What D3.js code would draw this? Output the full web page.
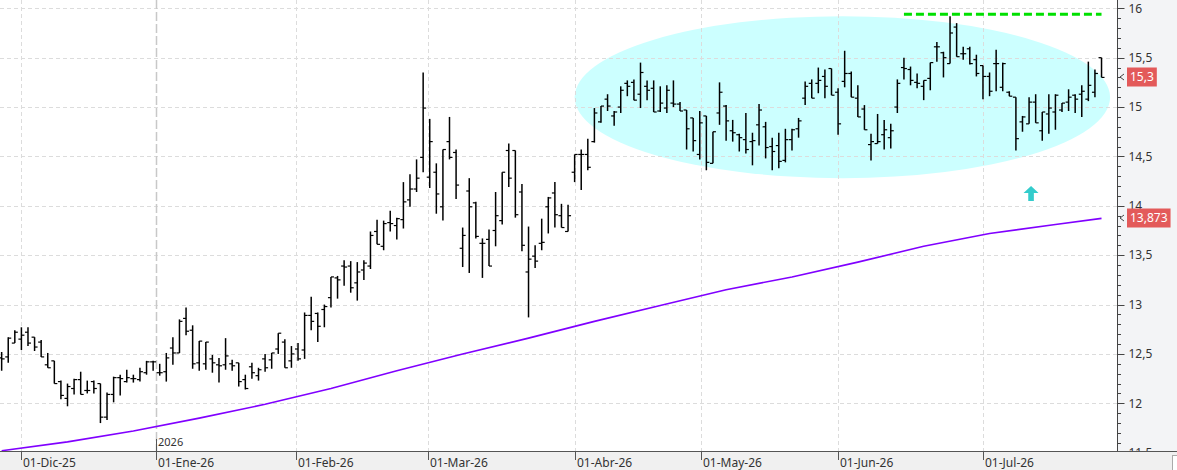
<!DOCTYPE html>
<html>
<head>
<meta charset="utf-8">
<script src="https://cdn.jsdelivr.net/npm/d3@7"></script>
<style>
   body { margin: 0; background: #fff; }
   svg { display: block; font-family: "Noto Sans", "DejaVu Sans", sans-serif; }
</style>
</head>
<body>
<svg id="chart" width="1177" height="470"></svg>
<script>
// trading calendar (weekdays minus market holidays)
var firstDay = "2025-11-26";
var lastDay = "2026-07-27";
var holidays = ["2025-12-25", "2025-12-26", "2026-01-01", "2026-04-03", "2026-04-06", "2026-05-01"];
var monthNames = ["Ene", "Feb", "Mar", "Abr", "May", "Jun", "Jul", "Ago", "Sep", "Oct", "Nov", "Dic"];

// daily bars, one value per trading day
var opens = [12.46,12.47,12.61,12.65,12.72,12.67,12.62,12.39,12.43,12.22,12.05,12.15,12.24,12.13,12.22,12.20,11.86,12.09,12.26,12.22,
   12.25,12.24,12.31,12.42,12.31,12.32,12.56,12.51,12.86,12.74,12.41,12.40,12.45,12.39,12.39,12.40,12.41,12.24,12.37,12.28,
   12.45,12.44,12.55,12.62,12.43,12.55,12.54,12.89,12.91,12.95,13.07,13.27,13.39,13.39,13.22,13.35,13.39,13.74,13.59,13.83,
   13.80,13.86,14.06,14.17,14.49,14.29,14.34,13.99,14.65,14.54,13.57,14.15,14.03,13.62,13.66,13.75,13.85,14.56,14.56,14.14,
   13.33,13.49,13.62,13.99,14.13,13.90,13.74,14.34,14.52,14.52,14.65,14.85,15.08,14.91,15.00,15.24,15.25,15.13,15.21,15.19,
   14.96,14.99,15.04,15.03,14.97,14.89,14.52,14.91,14.43,14.94,15.01,14.76,14.72,14.67,14.65,14.82,14.80,14.60,14.61,14.46,
   14.67,14.78,15.09,15.24,15.24,15.31,15.39,15.15,15.26,15.34,15.09,14.98,14.62,14.63,14.72,14.69,15.00,15.40,15.38,15.25,
   15.21,15.29,15.61,15.55,15.44,15.81,15.54,15.59,15.48,15.42,15.31,15.44,15.20,15.15,15.10,14.85,14.83,15.05,14.76,14.93,
   14.95,14.97,15.05,15.12,15.13,15.08,15.15,15.50];
var highs = [12.52,12.67,12.74,12.77,12.77,12.67,12.64,12.51,12.43,12.23,12.20,12.25,12.32,12.23,12.23,12.20,12.11,12.27,12.29,12.34,
   12.29,12.36,12.43,12.43,12.40,12.51,12.67,12.85,12.97,12.79,12.63,12.62,12.49,12.46,12.66,12.44,12.41,12.29,12.41,12.36,
   12.50,12.51,12.71,12.65,12.58,12.61,12.92,13.08,12.92,13.00,13.28,13.29,13.45,13.44,13.43,13.45,13.74,13.86,13.85,13.95,
   13.88,14.24,14.32,14.47,15.35,14.88,14.43,14.57,14.90,14.57,13.78,14.28,14.04,13.67,13.76,14.14,14.34,14.63,14.56,14.22,
   13.79,13.60,13.87,14.09,14.24,14.02,14.01,14.52,14.57,14.68,14.99,15.01,15.13,14.96,15.21,15.27,15.28,15.45,15.27,15.27,
   15.21,15.22,15.27,15.05,14.97,14.89,14.96,14.91,14.75,15.25,15.02,14.87,14.73,14.94,14.74,15.03,14.85,14.69,14.74,14.78,
   14.78,14.89,15.26,15.28,15.40,15.38,15.39,15.19,15.57,15.36,15.22,15.02,14.73,14.93,14.87,14.83,15.28,15.50,15.41,15.34,
   15.27,15.45,15.66,15.56,15.92,15.85,15.61,15.61,15.53,15.42,15.35,15.58,15.45,15.16,15.10,14.91,15.10,15.13,14.95,15.13,
   15.13,15.04,15.18,15.13,15.22,15.46,15.38,15.50];
var lows = [12.33,12.41,12.61,12.54,12.58,12.53,12.47,12.36,12.20,12.04,11.97,12.09,12.09,12.10,12.10,11.80,11.83,12.01,12.08,12.21,
   12.21,12.22,12.29,12.33,12.28,12.22,12.39,12.51,12.69,12.35,12.33,12.34,12.31,12.21,12.34,12.33,12.17,12.14,12.25,12.23,
   12.32,12.35,12.50,12.36,12.36,12.43,12.45,12.74,12.62,12.77,12.97,13.06,13.19,13.12,13.04,13.25,13.36,13.61,13.55,13.74,
   13.66,13.77,13.99,14.14,14.34,14.18,13.92,13.85,14.47,14.07,13.38,13.32,13.67,13.27,13.39,13.59,13.81,14.19,13.88,13.54,
   12.87,13.37,13.55,13.72,13.78,13.78,13.74,14.24,14.16,14.36,14.64,14.84,14.96,14.81,14.94,15.11,15.07,14.99,15.07,14.95,
   14.95,14.94,15.00,14.96,14.57,14.55,14.47,14.36,14.43,14.82,14.66,14.65,14.55,14.53,14.41,14.61,14.48,14.36,14.38,14.44,
   14.56,14.69,15.02,15.09,15.14,15.09,15.12,14.72,15.20,15.10,14.90,14.77,14.46,14.63,14.57,14.58,14.94,15.28,15.22,15.19,
   15.07,15.17,15.46,15.30,15.44,15.51,15.48,15.43,15.31,15.08,15.11,15.16,15.16,15.11,14.56,14.75,14.83,14.84,14.66,14.73,
   14.77,14.95,14.96,14.94,14.90,15.06,15.10,15.30];
var closes = [12.45,12.66,12.72,12.69,12.61,12.57,12.47,12.36,12.20,12.08,12.17,12.24,12.09,12.13,12.15,11.86,12.09,12.26,12.25,12.26,
   12.25,12.32,12.42,12.42,12.31,12.46,12.51,12.83,12.73,12.40,12.63,12.62,12.41,12.38,12.48,12.38,12.22,12.15,12.31,12.34,
   12.36,12.51,12.71,12.36,12.50,12.45,12.89,12.83,12.78,12.98,13.28,13.25,13.38,13.17,13.33,13.42,13.70,13.61,13.82,13.82,
   13.87,14.04,14.17,14.28,14.99,14.65,14.12,14.57,14.49,14.21,13.70,13.99,13.69,13.62,13.39,13.90,14.34,14.28,13.91,13.60,
   13.46,13.44,13.63,14.08,13.91,13.78,13.90,14.52,14.52,14.39,14.94,15.01,15.01,14.95,15.17,15.21,15.07,15.35,15.17,14.95,
   15.04,15.17,15.03,14.96,14.78,14.66,14.84,14.44,14.75,15.15,14.86,14.74,14.69,14.57,14.66,14.97,14.59,14.55,14.45,14.67,
   14.77,14.86,15.21,15.09,15.27,15.21,15.12,14.83,15.34,15.10,14.90,14.77,14.65,14.65,14.77,14.76,15.24,15.39,15.27,15.24,
   15.27,15.45,15.61,15.50,15.75,15.51,15.54,15.44,15.34,15.31,15.16,15.44,15.44,15.11,14.68,14.90,15.05,14.84,14.95,14.99,
   15.12,15.04,15.10,15.08,15.16,15.22,15.34,15.30];

// long moving average, read at every tenth bar
var maIdx = [0, 10, 20, 30, 40, 50, 60, 70, 80, 90, 100, 110, 120, 130, 140, 150, 160, 167];
var maVal = [11.52, 11.61, 11.72, 11.85, 11.99, 12.15, 12.33, 12.50, 12.66, 12.83, 12.99, 13.15, 13.28, 13.43, 13.59, 13.72, 13.81, 13.873];

// price axis
var yTicks = [11.5, 12, 12.5, 13, 13.5, 14, 14.5, 15, 15.5, 16];
var lastPrice = 15.3;
var lastMa = 13.873;

// annotations, in bar index / price units
var zoneIdx = [87, 168.3];
var zonePrice = [14.28, 15.92];
var resistance = 15.94;
var resistIdx = [137, 167];
var arrowIdx = 156.3;
var arrowPrice = 14.2;

var W = 1177, H = 470;
var plotRight = 1117, plotBottom = 451;

var svg = d3.select("#chart");

var parse = d3.utcParse("%Y-%m-%d"), fmtDay = d3.utcFormat("%Y-%m-%d");
var days = d3.utcDays(parse(firstDay), d3.utcDay.offset(parse(lastDay), 1)).filter(function(d){
   var w = d.getUTCDay();
   return w != 0 && w != 6 && holidays.indexOf(fmtDay(d)) < 0;
});

var x = d3.scaleLinear().domain([-0.25, 169.35]).range([0, plotRight]);
var y = d3.scaleLinear().domain([11.5, 16]).range([452.7, 8.3]);

//month starts as fractional bar positions (weekend / holiday dates fall between bars)
var months = d3.utcMonths(parse("2025-12-01"), parse("2026-08-01")).map(function(m){
   var k = 0;
   while(k < days.length && days[k] < m) k++;
   var pos = k;
   if(+days[k] != +m) pos = k - 1 + (m - days[k-1]) / (days[k] - days[k-1]);
   var yy = String(m.getUTCFullYear()).slice(2);
   return {date: m, pos: pos, label: "01-" + monthNames[m.getUTCMonth()] + "-" + yy};
});

//clip for the price axis panel
svg.append("clipPath").attr("id", "axis-clip")
   .append("rect").attr("x", plotRight).attr("y", 0).attr("width", W - plotRight).attr("height", plotBottom);

//backgrounds
svg.append("rect").attr("x", 0).attr("y", 0).attr("width", W).attr("height", H).attr("fill", "#fff");
svg.append("rect").attr("x", plotRight).attr("y", 0).attr("width", W - plotRight).attr("height", plotBottom)
   .attr("fill", "#f3f4f6");
svg.append("rect").attr("x", 0).attr("y", plotBottom).attr("width", W).attr("height", H - plotBottom)
   .attr("fill", "#f0f0f0");

var plot = svg.append("g");

//highlighted zone
plot.append("ellipse")
   .attr("cx", (x(zoneIdx[0]) + x(zoneIdx[1])) / 2)
   .attr("cy", (y(zonePrice[0]) + y(zonePrice[1])) / 2)
   .attr("rx", (x(zoneIdx[1]) - x(zoneIdx[0])) / 2)
   .attr("ry", (y(zonePrice[0]) - y(zonePrice[1])) / 2)
   .attr("fill", "#ccffff");

//price gridlines
plot.selectAll("line.price-grid")
   .data(yTicks.filter(function(d){ return d > 11.5; }))
   .enter().append("line")
   .attr("x1", 0).attr("x2", plotRight)
   .attr("y1", function(d){ return Math.round(y(d)) + 0.5; })
   .attr("y2", function(d){ return Math.round(y(d)) + 0.5; })
   .attr("stroke", "#dcdcdc").attr("stroke-dasharray", "4,3");

//month gridlines, darker at the year change
plot.selectAll("line.time-grid")
   .data(months)
   .enter().append("line")
   .attr("x1", function(d){ return Math.round(x(d.pos)) + 0.5; })
   .attr("x2", function(d){ return Math.round(x(d.pos)) + 0.5; })
   .attr("y1", 0).attr("y2", plotBottom)
   .attr("stroke", function(d){ return d.date.getUTCMonth() == 0 ? "#c8c8c8" : "#dcdcdc"; })
   .attr("stroke-width", function(d){ return d.date.getUTCMonth() == 0 ? 1.5 : 1; })
   .attr("stroke-dasharray", function(d){ return d.date.getUTCMonth() == 0 ? "9,3" : "4,3"; });

//moving average
var maLine = d3.line()
   .x(function(d, i){ return x(maIdx[i]); })
   .y(function(d){ return y(d); });
plot.append("path")
   .datum(maVal)
   .attr("d", maLine)
   .attr("fill", "none")
   .attr("stroke", "#8000ff")
   .attr("stroke-width", 1.6);

//OHLC bars
var bars = plot.selectAll("g.bar")
   .data(d3.range(opens.length))
   .enter().append("g")
   .attr("stroke", "#000");
bars.append("line")
   .attr("x1", function(i){ return x(i); }).attr("x2", function(i){ return x(i); })
   .attr("y1", function(i){ return y(highs[i]); })
   .attr("y2", function(i){ return y(lows[i]); })
   .attr("stroke-width", 1.5);
bars.append("line")
   .attr("x1", function(i){ return x(i) - 3; }).attr("x2", function(i){ return x(i); })
   .attr("y1", function(i){ return y(opens[i]); })
   .attr("y2", function(i){ return y(opens[i]); })
   .attr("stroke-width", 1.2);
bars.append("line")
   .attr("x1", function(i){ return x(i); }).attr("x2", function(i){ return x(i) + 3; })
   .attr("y1", function(i){ return y(closes[i]); })
   .attr("y2", function(i){ return y(closes[i]); })
   .attr("stroke-width", 1.2);

//resistance line
plot.append("line")
   .attr("x1", x(resistIdx[0])).attr("x2", x(resistIdx[1]))
   .attr("y1", y(resistance)).attr("y2", y(resistance))
   .attr("stroke", "#00e000").attr("stroke-width", 3)
   .attr("stroke-dasharray", "8,4");

//arrow
var ax = x(arrowIdx), ay = y(arrowPrice);
plot.append("path")
   .attr("d", "M" + ax + "," + ay + " L" + (ax + 7.5) + "," + (ay + 7) + " L" + (ax + 2.8) + "," + (ay + 7) +
      " L" + (ax + 2.8) + "," + (ay + 15) + " L" + (ax - 2.8) + "," + (ay + 15) + " L" + (ax - 2.8) + "," + (ay + 7) +
      " L" + (ax - 7.5) + "," + (ay + 7) + "Z")
   .attr("fill", "#33cccc");

//bottom axis
svg.append("line").attr("x1", 0).attr("x2", W).attr("y1", plotBottom + 0.5).attr("y2", plotBottom + 0.5)
   .attr("stroke", "#555");
var xAxis = svg.append("g");
xAxis.selectAll("line")
   .data(months)
   .enter().append("line")
   .attr("x1", function(d){ return Math.round(x(d.pos)) + 0.5; })
   .attr("x2", function(d){ return Math.round(x(d.pos)) + 0.5; })
   .attr("y1", plotBottom).attr("y2", plotBottom + 9)
   .attr("stroke", "#555");
xAxis.selectAll("text")
   .data(months)
   .enter().append("text")
   .attr("x", function(d){ return Math.round(x(d.pos)) + 2; })
   .attr("y", plotBottom + 16)
   .attr("font-size", 12)
   .attr("fill", "#333")
   .text(function(d){ return d.label; });

//year marker
var janPos = months.filter(function(d){ return d.date.getUTCMonth() == 0; })[0];
svg.append("line")
   .attr("x1", Math.round(x(janPos.pos)) + 0.5).attr("x2", Math.round(x(janPos.pos)) + 0.5)
   .attr("y1", plotBottom - 12).attr("y2", plotBottom)
   .attr("stroke", "#555");
svg.append("text")
   .attr("x", Math.round(x(janPos.pos)) + 2).attr("y", plotBottom - 5)
   .attr("font-size", 11).attr("fill", "#333")
   .text(janPos.date.getUTCFullYear());

//price axis (labels cut at the bottom band like the original)
var yAxisClip = svg.append("g").attr("clip-path", "url(#axis-clip)");
var yAxis = yAxisClip.append("g").attr("transform", "translate(" + (plotRight + 0.5) + ",0)");
yAxis.append("line").attr("x1", 0).attr("x2", 0).attr("y1", 0).attr("y2", plotBottom).attr("stroke", "#444");
yAxis.selectAll("line.minor")
   .data(d3.range(115, 161).map(function(v){ return v / 10; }))
   .enter().append("line")
   .attr("x1", 0)
   .attr("x2", function(d){ return Math.abs(d * 2 - Math.round(d * 2)) < 1e-6 ? 7 : 3.5; })
   .attr("y1", function(d){ return Math.round(y(d)) + 0.5; })
   .attr("y2", function(d){ return Math.round(y(d)) + 0.5; })
   .attr("stroke", "#444");
yAxis.selectAll("text")
   .data(yTicks)
   .enter().append("text")
   .attr("x", 11)
   .attr("y", function(d){ return y(d); })
   .attr("dy", "0.35em")
   .attr("font-size", 12)
   .attr("fill", "#333")
   .text(function(d){ return String(d).replace(".", ","); });

//current value labels
function priceLabel(v, txt){
   var g = svg.append("g").attr("transform", "translate(" + plotRight + "," + Math.round(y(v)) + ")");
   var t = g.append("text").attr("x", 13).attr("y", 0).attr("dy", "0.35em")
      .attr("font-size", 12).attr("fill", "#fff").text(txt);
   var w = t.node().getComputedTextLength();
   g.insert("rect", "text").attr("x", 10).attr("y", -9.5).attr("width", w + 6).attr("height", 19)
      .attr("fill", "#e35a5a");
   g.append("path").attr("d", "M7,-3 L3,0 L7,3").attr("fill", "none").attr("stroke", "#444");
}
priceLabel(lastPrice, String(lastPrice).replace(".", ","));
priceLabel(lastMa, String(lastMa).replace(".", ","));

//corner box
svg.append("rect").attr("x", 1172.5).attr("y", 455.5).attr("width", 10).attr("height", 20)
   .attr("fill", "#fff").attr("stroke", "#aaa");
</script>
</body>
</html>
